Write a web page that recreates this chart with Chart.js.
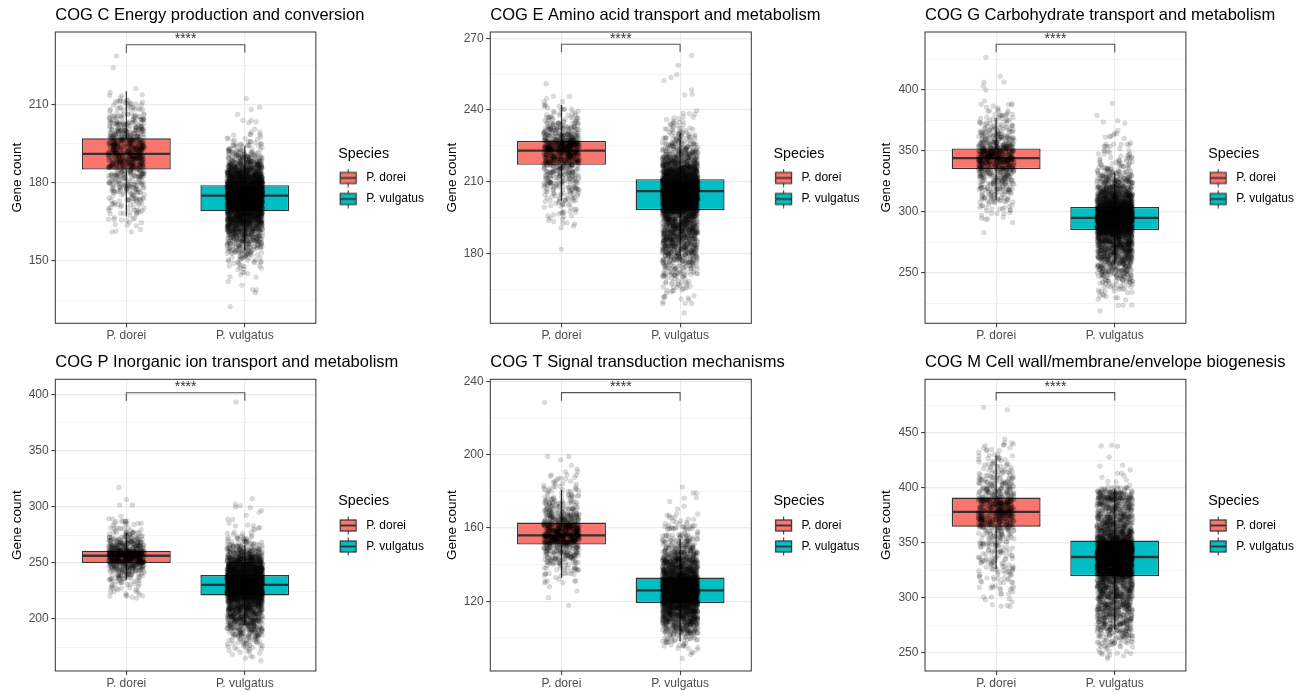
<!DOCTYPE html>
<html><head><meta charset="utf-8">
<script src="https://cdn.jsdelivr.net/npm/chart.js@4.4.1/dist/chart.umd.min.js"></script>
<style>
html,body{margin:0;padding:0;background:#fff;}
#wrap{position:relative;width:1311px;height:693px;overflow:hidden;background:#fff;}
#wrap canvas{position:absolute;}
</style></head><body><div id="wrap"></div>
<script>
// ---------------- DATA ----------------
const panelTitles = [
  'COG C Energy production and conversion',
  'COG E Amino acid transport and metabolism',
  'COG G Carbohydrate transport and metabolism',
  'COG P Inorganic ion transport and metabolism',
  'COG T Signal transduction mechanisms',
  'COG M Cell wall/membrane/envelope biogenesis'
];
const species = ['P. dorei', 'P. vulgatus'];
const legendTitle = 'Species';
const yAxisTitle = 'Gene count';
const sigLabel = '****';

// box statistics per panel (C, E, G, P, T, M)
const q1Dorei  = [185, 217, 335, 250, 151, 364.5];
const medDorei = [191, 223, 344, 256.5, 156, 378];
const q3Dorei  = [197, 227, 352, 261, 163, 391];
const loDorei  = [167, 202, 310, 235, 133, 326];
const hiDorei  = [215, 242, 377, 277, 181, 429];
const q1Vulg   = [169, 198, 285, 221, 119, 319.5];
const medVulg  = [175, 206, 295, 230.5, 126, 337];
const q3Vulg   = [179, 211, 304, 239.3, 133, 352];
const loVulg   = [154, 179, 257, 194.6, 98, 271];
const hiVulg   = [194, 230, 332, 266, 154, 399];

// axis ranges and tick labels
const yMin = [126.1, 150.7, 208.5, 153.6, 81.9, 233.4];
const yMax = [237.7, 272.6, 447.6, 414, 241.3, 498.5];
const yMajor = [[150,180,210],[180,210,240,270],[250,300,350,400],[200,250,300,350,400],[120,160,200,240],[250,300,350,400,450]];
const yMinor = [[135,165,195,225],[165,195,225,255],[225,275,325,375,425],[175,225,275,325,375],[100,140,180,220],[275,325,375,425,475]];
const bracketY = [232.8, 267.5, 437.5, 402, 234, 486.4];

// jittered genomes: gene-count values (read in bins) and how many genomes sit at each
const binWidth = [2, 2, 4, 4, 3, 5];
const cDoreiVals   = [162,164,166,168,170,172,174,176,178,180,182,184,186,188,190,192,194,196,198,200,202,204,206,208,210,212,214,216,224,228];
const cDoreiCounts = [4,5,7,9,11,14,17,21,26,29,33,36,60,66,69,69,66,60,51,42,33,26,18,14,10,7,4,1,1,1];
const cVulgVals    = [132,138,140,142,144,146,148,150,152,154,156,158,160,162,164,166,168,170,172,174,176,178,180,182,184,186,188,190,192,194,196,198,200,202,204,206,208,212];
const cVulgCounts  = [1,3,1,1,3,5,7,13,20,30,42,57,75,105,135,180,225,255,300,345,465,435,255,210,150,105,68,45,27,15,9,6,3,1,3,1,2,1];

const eDoreiVals   = [182,190,192,194,196,198,200,202,204,206,208,210,212,214,216,218,220,222,224,226,228,230,232,234,236,238,240,242,244,246,250];
const eDoreiCounts = [1,1,4,4,6,8,9,12,15,18,21,26,30,33,36,63,69,72,99,96,60,48,36,24,16,10,7,4,3,2,1];
const eVulgVals    = [156,158,160,162,164,166,168,170,172,174,176,178,180,182,184,186,188,190,192,194,196,198,200,202,204,206,208,210,212,214,216,218,220,222,224,226,228,230,232,234,236,238,240,246,248,252,254,258,262];
const eVulgCounts  = [1,2,4,5,6,9,10,15,20,26,33,42,51,60,69,78,87,96,96,102,108,195,218,232,248,330,300,270,225,165,120,87,63,48,36,27,20,15,10,8,6,4,1,2,1,1,2,1,1];

const gDoreiVals   = [284,292,296,300,304,308,312,316,320,324,328,332,336,340,344,348,352,356,360,364,368,372,376,380,384,388,392,400,404,408,412,428];
const gDoreiCounts = [1,2,4,7,10,13,18,21,26,32,36,40,66,75,81,84,72,45,36,27,20,15,12,9,7,5,1,1,1,2,1,1];
const gVulgVals    = [220,224,228,232,236,240,244,248,252,256,260,264,268,272,276,280,284,288,292,296,300,304,308,312,316,320,324,328,332,336,340,344,348,352,356,360,364,368,372,376,380,388];
const gVulgCounts  = [1,3,4,6,10,15,22,33,45,48,63,78,93,108,120,132,255,300,330,345,322,270,180,135,102,75,54,39,27,18,13,10,8,7,6,4,3,1,2,1,1,1];

const pDoreiVals   = [220,224,228,232,236,240,244,248,252,256,260,264,268,272,276,280,284,288,292,300,308,316];
const pDoreiCounts = [6,6,9,12,18,27,42,68,112,120,135,68,48,30,18,10,7,8,1,2,1,1];
const pVulgVals    = [164,168,172,176,180,184,188,192,196,200,204,208,212,216,220,224,228,232,236,240,244,248,252,256,260,264,268,272,276,280,284,288,292,296,300,304,308,392];
const pVulgCounts  = [2,4,7,12,18,25,36,48,63,68,82,98,112,142,225,315,338,345,330,255,225,165,120,84,57,36,22,12,6,4,4,2,1,2,3,1,1,1];

const tDoreiVals   = [117,123,126,129,132,135,138,141,144,147,150,153,156,159,162,165,168,171,174,177,180,183,186,189,192,195,198,228];
const tDoreiCounts = [1,1,1,3,6,10,16,25,39,45,60,112,112,98,87,63,45,33,24,18,12,9,7,5,3,1,3,1];
const tVulgVals    = [90,93,96,99,102,105,108,111,114,117,120,123,126,129,132,135,138,141,144,147,150,153,156,159,162,165,168,171,174,177,180,183];
const tVulgCounts  = [2,5,10,21,36,60,93,120,150,188,255,278,285,285,270,165,135,112,82,60,42,30,21,15,12,7,4,2,1,2,2,1];

const mDoreiVals   = [290,295,300,305,310,315,320,325,330,335,340,345,350,355,360,365,370,375,380,385,390,395,400,405,410,415,420,425,430,435,440,445,470,475];
const mDoreiCounts = [2,3,4,6,8,9,12,14,15,16,15,16,18,21,24,54,63,69,69,66,57,39,30,27,21,16,13,10,7,6,6,1,1,1];
const mVulgVals    = [245,250,255,260,265,270,275,280,285,290,295,300,305,310,315,320,325,330,335,340,345,350,355,360,365,370,375,380,385,390,395,400,405,410,415,420,430,440];
const mVulgCounts  = [3,8,12,21,30,42,52,54,60,66,72,78,84,90,96,165,188,202,218,248,255,248,128,105,82,75,68,60,57,90,60,15,3,2,3,2,1,3];

const doreiVals   = [cDoreiVals, eDoreiVals, gDoreiVals, pDoreiVals, tDoreiVals, mDoreiVals];
const doreiCounts = [cDoreiCounts, eDoreiCounts, gDoreiCounts, pDoreiCounts, tDoreiCounts, mDoreiCounts];
const vulgVals    = [cVulgVals, eVulgVals, gVulgVals, pVulgVals, tVulgVals, mVulgVals];
const vulgCounts  = [cVulgCounts, eVulgCounts, gVulgCounts, pVulgCounts, tVulgCounts, mVulgCounts];

// ---------------- STYLE ----------------
const FILLS = ['#F8766D', '#00BFC4'];
const INK = '#333333';
const JITTER = 0.15;
Chart.defaults.font.family = '"Liberation Sans", Arial, Helvetica, sans-serif';

// deterministic scatter offset (integer hash) used only for jitter placement
function hash01(n) {
  let h = (n + 0x9e3779b9) >>> 0;
  h = Math.imul(h ^ (h >>> 16), 0x85ebca6b);
  h = Math.imul(h ^ (h >>> 13), 0xc2b2ae35);
  h ^= h >>> 16;
  return (h >>> 0) / 4294967296;
}

// horizontal jitter across the box, vertical jitter inside the reading bin (like geom_jitter)
function jitterPoints(vals, counts, center, bin, seed) {
  const pts = [];
  let k = 0;
  for (let i = 0; i < vals.length; i++) {
    for (let j = 0; j < counts[i]; j++, k++) {
      const u = hash01(seed * 100003 + 2 * k);
      const w = hash01(seed * 100003 + 2 * k + 1);
      pts.push({x: center + JITTER * (2 * u - 1), y: vals[i] + bin * 0.95 * (w - 0.5)});
    }
  }
  return pts;
}

function keyGlyph(fill) {
  const c = document.createElement('canvas');
  c.width = 30; c.height = 19;
  const g = c.getContext('2d');
  const cx = 9.5;
  g.strokeStyle = INK;
  g.lineWidth = 1.1;
  g.beginPath(); g.moveTo(cx, 0.5); g.lineTo(cx, 18.5); g.stroke();
  g.fillStyle = fill;
  g.fillRect(1.5, 4, 16, 11);
  g.lineWidth = 1.2;
  g.strokeRect(1.5, 4, 16, 11);
  g.lineWidth = 1.8;
  g.beginPath(); g.moveTo(1.5, 9.5); g.lineTo(17.5, 9.5); g.stroke();
  return c;
}
const keyImgs = FILLS.map(keyGlyph);

const boxPartsPlugin = {
  id: 'boxParts',
  afterDatasetDraw(chart, args) {
    const ds = chart.data.datasets[args.index];
    if (!ds.boxStats) return;
    const el = args.meta.data[0];
    const ys = chart.scales.y;
    const ctx = chart.ctx;
    const half = el.width / 2;
    const s = ds.boxStats;
    ctx.save();
    ctx.strokeStyle = INK;
    ctx.lineWidth = 1.2;
    ctx.beginPath();
    ctx.moveTo(el.x, ys.getPixelForValue(s.q3)); ctx.lineTo(el.x, ys.getPixelForValue(s.hi));
    ctx.moveTo(el.x, ys.getPixelForValue(s.q1)); ctx.lineTo(el.x, ys.getPixelForValue(s.lo));
    ctx.stroke();
    ctx.lineWidth = 2.3;
    const my = ys.getPixelForValue(s.med);
    ctx.beginPath(); ctx.moveTo(el.x - half + 0.8, my); ctx.lineTo(el.x + half - 0.8, my); ctx.stroke();
    ctx.restore();
  }
};

const bracketPlugin = {
  id: 'sigBracket',
  afterDatasetsDraw(chart, args, opts) {
    if (opts.y == null) return;
    const xs = chart.scales.x, ys = chart.scales.y, ctx = chart.ctx;
    const x1 = xs.getPixelForValue(1), x2 = xs.getPixelForValue(2), y = ys.getPixelForValue(opts.y);
    ctx.save();
    ctx.strokeStyle = '#555555';
    ctx.lineWidth = 1.1;
    ctx.beginPath();
    ctx.moveTo(x1, y + 8); ctx.lineTo(x1, y); ctx.lineTo(x2, y); ctx.lineTo(x2, y + 8);
    ctx.stroke();
    ctx.fillStyle = INK;
    ctx.font = '14px "Liberation Sans", Arial, sans-serif';
    ctx.textAlign = 'center';
    ctx.textBaseline = 'alphabetic';
    ctx.fillText(opts.label, (x1 + x2) / 2, y - 1.5);
    ctx.restore();
  }
};

const framePlugin = {
  id: 'panelFrame',
  afterLayout(chart) {
    if (chart.titleBlock) {
      chart.titleBlock.left = chart.chartArea.left;
      chart.titleBlock.right = chart.width;
    }
  },
  afterDraw(chart) {
    const a = chart.chartArea, ctx = chart.ctx;
    ctx.save();
    ctx.strokeStyle = INK;
    ctx.lineWidth = 1;
    ctx.strokeRect(a.left, a.top, a.right - a.left, a.bottom - a.top);
    ctx.restore();
  }
};

const LEFTS = [55.3, 53.3, 51];
const RIGHTS = [314.3, 312.7, 310.3];
const W = 437;
const YAXIS_W = 46.6;
const GAP_W = 22.3;
const LEGEND_W = 97.4;

function makePanel(p) {
  const col = p % 3, row = Math.floor(p / 3);
  const H = row ? 347 : 346;
  const T = row ? 33.3 : 32, B = row ? 325 : 323.3;
  const L = LEFTS[col], R = RIGHTS[col];
  const cv = document.createElement('canvas');
  cv.width = W; cv.height = H;
  cv.style.left = (col * W) + 'px';
  cv.style.top = (row * 346) + 'px';
  document.getElementById('wrap').appendChild(cv);

  const major = yMajor[p], minor = yMinor[p];
  const allY = major.concat(minor).sort((a, b) => a - b);
  const isMajor = v => major.indexOf(v) >= 0;
  const titlePadTop = row ? 6.7 : 5.1;
  const pointStyle = {
    parsing: false, normalized: true, order: 1,
    pointRadius: 2.5, pointHoverRadius: 0,
    backgroundColor: 'rgba(0,0,0,0.14)', borderColor: 'rgba(0,0,0,0.08)', borderWidth: 0.5
  };

  const datasets = [
    { type: 'bar', label: species[0], data: [{x: 1, y: [q1Dorei[p], q3Dorei[p]]}],
      backgroundColor: FILLS[0], borderColor: INK, borderWidth: 1.4, borderSkipped: false,
      barPercentage: 0.75, categoryPercentage: 1, grouped: false, order: 2,
      boxStats: {q1: q1Dorei[p], med: medDorei[p], q3: q3Dorei[p], lo: loDorei[p], hi: hiDorei[p]} },
    { type: 'bar', label: species[1], data: [{x: 2, y: [q1Vulg[p], q3Vulg[p]]}],
      backgroundColor: FILLS[1], borderColor: INK, borderWidth: 1.4, borderSkipped: false,
      barPercentage: 0.75, categoryPercentage: 1, grouped: false, order: 2,
      boxStats: {q1: q1Vulg[p], med: medVulg[p], q3: q3Vulg[p], lo: loVulg[p], hi: hiVulg[p]} },
    Object.assign({ type: 'scatter', label: species[0] + ' genomes',
      data: jitterPoints(doreiVals[p], doreiCounts[p], 1, binWidth[p], 2 * p + 1) }, pointStyle),
    Object.assign({ type: 'scatter', label: species[1] + ' genomes',
      data: jitterPoints(vulgVals[p], vulgCounts[p], 2, binWidth[p], 2 * p + 2) }, pointStyle)
  ];

  new Chart(cv, {
    type: 'scatter',
    data: { datasets },
    plugins: [boxPartsPlugin, bracketPlugin, framePlugin],
    options: {
      responsive: false, animation: false, devicePixelRatio: 1, events: [],
      layout: { padding: { left: L - YAXIS_W, right: W - R - GAP_W - LEGEND_W, top: 0, bottom: H - B - 22 } },
      scales: {
        x: {
          type: 'linear', min: 0.4, max: 2.6, offset: false,
          afterBuildTicks: s => { s.ticks = [{value: 1}, {value: 2}]; },
          afterFit: s => { s.height = 22; },
          ticks: { callback: v => species[Math.round(v) - 1], color: '#4D4D4D', font: {size: 12}, padding: 1.5, autoSkip: false, maxRotation: 0 },
          grid: { color: '#EBEBEB', lineWidth: 1.2, tickColor: INK, tickLength: 4, tickWidth: 1, offset: false },
          border: { display: false }
        },
        y: {
          type: 'linear', min: yMin[p], max: yMax[p],
          afterBuildTicks: s => { s.ticks = allY.map(v => ({value: v})); },
          afterFit: s => { s.width = YAXIS_W; },
          ticks: { callback: v => isMajor(v) ? String(v) : '', color: '#4D4D4D', font: {size: 12}, padding: 2.6, autoSkip: false },
          grid: {
            color: '#EBEBEB',
            lineWidth: c => (c.tick && isMajor(c.tick.value)) ? 1.2 : 0.6,
            tickColor: c => (c.tick && isMajor(c.tick.value)) ? INK : 'rgba(0,0,0,0)',
            tickLength: 4, tickWidth: 1
          },
          border: { display: false },
          title: { display: true, text: yAxisTitle, color: '#000', font: {size: 13.5, lineHeight: 1.2}, padding: {top: 0, bottom: 0} }
        },
        gap: {
          type: 'linear', position: 'right', display: true,
          afterFit: s => { s.width = GAP_W; },
          ticks: { display: false }, grid: { display: false, drawTicks: false }, border: { display: false }
        }
      },
      plugins: {
        tooltip: { enabled: false },
        title: {
          display: true, text: panelTitles[p], align: 'start', color: '#000',
          font: {size: 16.5, weight: 'normal', lineHeight: 1.2},
          padding: {top: titlePadTop, bottom: T - 19.8 - titlePadTop}
        },
        legend: {
          display: true, position: 'right', align: 'center', fullSize: false, maxWidth: 140,
          title: { display: true, text: legendTitle, position: 'start', color: '#000',
                   font: {size: 14.3, lineHeight: 1}, padding: {top: 5.55, bottom: 1.85} },
          labels: {
            color: '#000', font: {size: 12}, padding: 9, usePointStyle: true, pointStyleWidth: 13,
            generateLabels: chart => chart.data.datasets
              .map((ds, i) => ds.type === 'bar' ? {
                text: ds.label, pointStyle: keyImgs[i], fillStyle: ds.backgroundColor,
                strokeStyle: INK, lineWidth: 0, hidden: false, datasetIndex: i, fontColor: '#000'
              } : null)
              .filter(Boolean)
          }
        },
        sigBracket: { y: bracketY[p], label: sigLabel }
      }
    }
  });
}

for (let p = 0; p < 6; p++) makePanel(p);
</script></body></html>
